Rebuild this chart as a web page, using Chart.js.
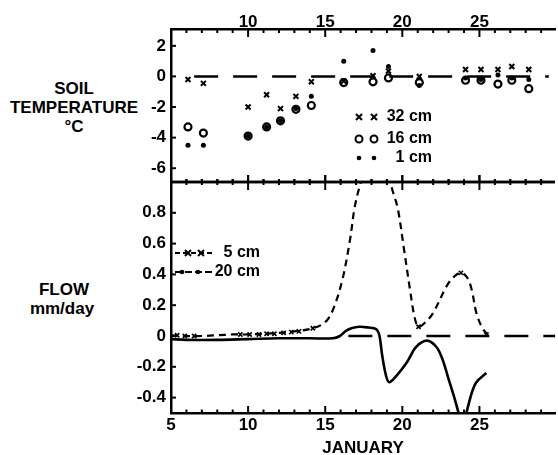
<!DOCTYPE html>
<html>
<head>
<meta charset="utf-8">
<script src="https://cdn.jsdelivr.net/npm/chart.js@4.4.0/dist/chart.umd.min.js"></script>
<style>
  body { margin: 0; background: #fff; width: 558px; height: 455px; overflow: hidden; position: relative;
         font-family: "Liberation Sans", Arial, sans-serif; font-weight: bold; color: #000; }
  canvas { position: absolute; left: 0; }
  #tempCanvas { top: 0; }
  #flowCanvas { top: 170px; }
  .lbl { position: absolute; left: 0; width: 148px; text-align: center; font-size: 17px; line-height: 1; white-space: nowrap; }
</style>
</head>
<body>
<div class="lbl" style="top:80px">SOIL</div>
<div class="lbl" style="top:99px">TEMPERATURE</div>
<div class="lbl" style="top:118px">°C</div>
<div class="lbl" style="top:281px;width:128px">FLOW</div>
<div class="lbl" style="top:300px;width:124px">mm/day</div>

<canvas id="tempCanvas" width="558" height="190"></canvas>
<canvas id="flowCanvas" width="558" height="285"></canvas>

<script>
// ---- data ----
const dayTicks = [5,6,7,8,9,10,11,12,13,14,15,16,17,18,19,20,21,22,23,24,25,26,27,28,29];
const topDayLabels = [10, 15, 20, 25];
const bottomDayLabels = [5, 10, 15, 20, 25];
const tempTicks = [2, 0, -2, -4, -6];
const flowTicks = [0.8, 0.6, 0.4, 0.2, 0, -0.2, -0.4];

// soil temperature (°C)
const tempDays  = [6.1, 7.1, 10, 11.2, 12.1, 13.1, 14.1, 16.2, 18.1, 19.1, 21.1, 24.1, 25.1, 26.2, 27.1, 28.2];
const temp32cm  = [-0.2, -0.45, -2.0, -1.2, -2.1, -1.3, -0.35, -0.3, 0.05, 0.35, 0.0, 0.45, 0.45, 0.45, 0.65, 0.45];
const temp16cm  = [-3.3, -3.7, -3.9, -3.3, -2.9, -2.15, -1.9, -0.4, -0.35, -0.1, -0.4, -0.25, -0.25, -0.5, -0.25, -0.8];
const temp1cm   = [-4.5, -4.5, -3.9, -3.3, -2.9, -2.1, -1.3, 1.0, 1.7, 0.65, -0.6, -0.1, -0.2, 0.1, -0.1, -0.2];
const tempZeroSpan = [6.5, 29.5];

// flow (mm/day)
const flow5Days = [5, 6, 7, 8, 9, 10, 11, 12, 13, 14.2, 15, 15.5, 16.1, 16.6, 16.9, 17.2, 17.6, 18.3, 19.0, 19.35, 19.7, 20.1, 20.5, 20.8, 21.05, 21.5, 22, 22.85, 23.3, 23.8, 24.2, 24.5, 24.8, 25.2, 25.6];
const flow5Vals = [0.005, 0.0, 0.0, 0.005, 0.01, 0.01, 0.015, 0.02, 0.03, 0.05, 0.09, 0.17, 0.36, 0.62, 0.83, 0.96, 1.08, 1.18, 1.08, 0.95, 0.83, 0.57, 0.3, 0.12, 0.06, 0.09, 0.15, 0.32, 0.38, 0.41, 0.38, 0.3, 0.15, 0.05, 0.0];
const flow5MarkDays = [5.4, 5.9, 6.5, 9.5, 10.1, 10.7, 11.2, 11.7, 12.3, 12.8, 13.3, 14.2, 21.05, 23.8, 25.45];
const flow5MarkVals = [0.005, 0.0, 0.0, 0.01, 0.01, 0.01, 0.015, 0.015, 0.02, 0.025, 0.03, 0.05, 0.06, 0.41, 0.01];
const flow20Days = [5, 6, 8, 10, 12, 14, 15.5, 15.95, 16.3, 16.7, 17.2, 17.8, 18.3, 18.5, 18.7, 18.95, 19.15, 19.6, 20.3, 20.9, 21.6, 22.2, 22.6, 23.0, 23.4, 23.65, 23.9, 24.15, 24.5, 24.8, 25.45];
const flow20Vals = [-0.02, -0.025, -0.025, -0.02, -0.015, -0.015, -0.015, 0.0, 0.03, 0.05, 0.06, 0.055, 0.045, 0.01, -0.13, -0.26, -0.30, -0.26, -0.17, -0.07, -0.03, -0.07, -0.15, -0.28, -0.41, -0.5, -0.58, -0.5, -0.37, -0.3, -0.24];
const flowZeroSpan = [16.5, 29.9];

const pts = (xs, ys) => xs.map((x, i) => ({ x: x, y: ys[i] }));
const tickFont = { family: "'Liberation Sans', Arial, sans-serif", size: 17, weight: 'bold', lineHeight: 1 };

// keep the plot area exactly where the figure has it
const fixWidth = w => s => { s.width = w; s.paddingTop = 0; s.paddingBottom = 0; };
const fixHeight = h => s => { s.height = h; s.paddingLeft = 0; s.paddingRight = 0; };

// small marker helper for the hand-made legends
function mark(ctx, style, x, y) {
  ctx.beginPath();
  if (style === 'x') {
    const r = 3;
    ctx.moveTo(x - r, y - r); ctx.lineTo(x + r, y + r);
    ctx.moveTo(x + r, y - r); ctx.lineTo(x - r, y + r);
    ctx.stroke();
  } else if (style === 'o') {
    ctx.arc(x, y, 3.5, 0, Math.PI * 2);
    ctx.stroke();
  } else {
    ctx.arc(x, y, 2.3, 0, Math.PI * 2);
    ctx.fill();
  }
}

// frame line, inward ticks and legend
const decor = {
  id: 'decor',
  afterDraw(chart, args, opts) {
    const { ctx, chartArea: a, scales } = chart;
    ctx.save();
    ctx.strokeStyle = '#000';
    ctx.fillStyle = '#000';
    ctx.lineCap = 'butt';

    // separator line between panels
    ctx.lineWidth = 2.5;
    const sepY = opts.sep === 'bottom' ? a.bottom : a.top;
    ctx.beginPath(); ctx.moveTo(a.left, sepY); ctx.lineTo(a.right, sepY); ctx.stroke();

    // x ticks
    ctx.lineWidth = 2;
    scales.x.ticks.forEach(t => {
      const px = scales.x.getPixelForValue(t.value);
      const major = t.value % 5 === 0;
      opts.xTicks.forEach(e => {
        const y0 = e.edge === 'top' ? a.top : a.bottom;
        const up = major ? e.upMajor : e.up;
        const down = major ? e.downMajor : e.down;
        ctx.beginPath(); ctx.moveTo(px, y0 - up); ctx.lineTo(px, y0 + down); ctx.stroke();
      });
    });
    // y ticks
    scales.y.ticks.forEach(t => {
      const py = scales.y.getPixelForValue(t.value);
      ctx.beginPath(); ctx.moveTo(a.left, py); ctx.lineTo(a.left + 5, py); ctx.stroke();
    });

    // legend
    ctx.font = "bold 16px 'Liberation Sans', Arial, sans-serif";
    ctx.textAlign = 'right';
    ctx.textBaseline = 'middle';
    opts.legend.forEach(row => {
      if (row.line) {
        ctx.lineWidth = 2;
        ctx.setLineDash(row.line);
        ctx.beginPath(); ctx.moveTo(row.lineFrom, row.y); ctx.lineTo(row.lineTo, row.y); ctx.stroke();
        ctx.setLineDash([]);
      }
      ctx.lineWidth = 2;
      row.marks.forEach(mx => mark(ctx, row.style, mx, row.y));
      ctx.fillText(row.text, row.textX, row.y);
    });
    ctx.restore();
  }
};

// ---- soil temperature panel ----
new Chart(document.getElementById('tempCanvas'), {
  type: 'scatter',
  data: {
    datasets: [
      { label: '1 cm', data: pts(tempDays, temp1cm), pointStyle: 'circle', pointRadius: 2.5,
        backgroundColor: '#000', borderColor: '#000', borderWidth: 0 },
      { label: '32 cm', data: pts(tempDays, temp32cm), pointStyle: 'crossRot', pointRadius: 3.5,
        borderColor: '#000', borderWidth: 2 },
      { label: '16 cm', data: pts(tempDays, temp16cm), pointStyle: 'circle', pointRadius: 3.5,
        backgroundColor: 'rgba(0,0,0,0)', borderColor: '#000', borderWidth: 2.2 },
      { label: 'zero', data: pts(tempZeroSpan, [0, 0]), showLine: true, pointRadius: 0,
        borderColor: '#000', borderWidth: 2.5, borderDash: [24, 15] }
    ]
  },
  options: {
    responsive: false,
    animation: false,
    layout: { autoPadding: false, padding: { left: 0, right: 3, top: 0, bottom: 8 } },
    plugins: {
      legend: { display: false },
      tooltip: { enabled: false },
      decor: {
        sep: 'bottom',
        xTicks: [
          { edge: 'top', up: 0, down: 4, upMajor: 0, downMajor: 8 },
          { edge: 'bottom', up: 3, down: 0, upMajor: 7, downMajor: 0 }
        ],
        legend: [
          { y: 117, style: 'x', marks: [359, 374], text: '32 cm', textX: 432 },
          { y: 139, style: 'o', marks: [359, 374], text: '16 cm', textX: 432 },
          { y: 158, style: 'dot', marks: [359, 374], text: '1 cm', textX: 432 }
        ]
      }
    },
    scales: {
      x: {
        type: 'linear', position: 'top', min: 5, max: 29.9,
        afterBuildTicks: s => { s.ticks = dayTicks.map(v => ({ value: v })); },
        afterFit: fixHeight(29),
        grid: { display: false, drawTicks: false },
        border: { display: true, color: '#000', width: 2.5 },
        ticks: { autoSkip: false, maxRotation: 0, padding: -2, color: '#000', font: tickFont,
                 callback: v => topDayLabels.includes(v) ? String(v) : '' }
      },
      y: {
        min: -6.9, max: 3.1,
        afterBuildTicks: s => { s.ticks = tempTicks.map(v => ({ value: v })); },
        afterFit: fixWidth(171),
        grid: { display: false, drawTicks: false },
        border: { display: true, color: '#000', width: 2.5 },
        ticks: { padding: 5, color: '#000', font: tickFont, callback: v => String(v) }
      }
    }
  },
  plugins: [decor]
});

// ---- flow panel ----
new Chart(document.getElementById('flowCanvas'), {
  type: 'scatter',
  data: {
    datasets: [
      { label: '5 cm marks', data: pts(flow5MarkDays, flow5MarkVals), pointStyle: 'crossRot', pointRadius: 3,
        borderColor: '#000', borderWidth: 1.6 },
      { label: '5 cm', data: pts(flow5Days, flow5Vals), showLine: true, pointRadius: 0, tension: 0.35,
        borderColor: '#000', borderWidth: 2.2, borderDash: [7, 5] },
      { label: '20 cm', data: pts(flow20Days, flow20Vals), showLine: true, pointRadius: 0, tension: 0.35,
        borderColor: '#000', borderWidth: 2.6 },
      { label: 'zero', data: pts(flowZeroSpan, [0, 0]), showLine: true, pointRadius: 0,
        borderColor: '#000', borderWidth: 2.5, borderDash: [24, 15] }
    ]
  },
  options: {
    responsive: false,
    animation: false,
    layout: { autoPadding: false, padding: { left: 0, right: 3, top: 12, bottom: 0 } },
    plugins: {
      legend: { display: false },
      tooltip: { enabled: false },
      decor: {
        sep: 'top',
        xTicks: [
          { edge: 'top', up: 3, down: 3, upMajor: 7, downMajor: 8 },
          { edge: 'bottom', up: 3.5, down: 0, upMajor: 7, downMajor: 0 }
        ],
        legend: [
          { y: 83, style: 'x', marks: [188, 201], text: '5 cm', textX: 260,
            line: [5, 3], lineFrom: 175, lineTo: 212 },
          { y: 102, style: 'dot', marks: [182, 198], text: '20 cm', textX: 260,
            line: [7, 3], lineFrom: 175, lineTo: 212 }
        ]
      }
    },
    scales: {
      x: {
        type: 'linear', position: 'bottom', min: 5, max: 29.9,
        afterBuildTicks: s => { s.ticks = dayTicks.map(v => ({ value: v })); },
        afterFit: fixHeight(42),
        grid: { display: false, drawTicks: false },
        border: { display: true, color: '#000', width: 2.5 },
        ticks: { autoSkip: false, maxRotation: 0, padding: 3.5, color: '#000', font: tickFont,
                 callback: v => bottomDayLabels.includes(v) ? String(v) : '' },
        title: { display: true, text: 'JANUARY', color: '#000', font: tickFont, padding: { top: 0, bottom: -2 } }
      },
      y: {
        min: -0.5, max: 1.0,
        afterBuildTicks: s => { s.ticks = flowTicks.map(v => ({ value: v })); },
        afterFit: fixWidth(171),
        grid: { display: false, drawTicks: false },
        border: { display: true, color: '#000', width: 2.5 },
        ticks: { padding: 5, color: '#000', font: tickFont, callback: v => String(v) }
      }
    }
  },
  plugins: [decor]
});
</script>
</body>
</html>
